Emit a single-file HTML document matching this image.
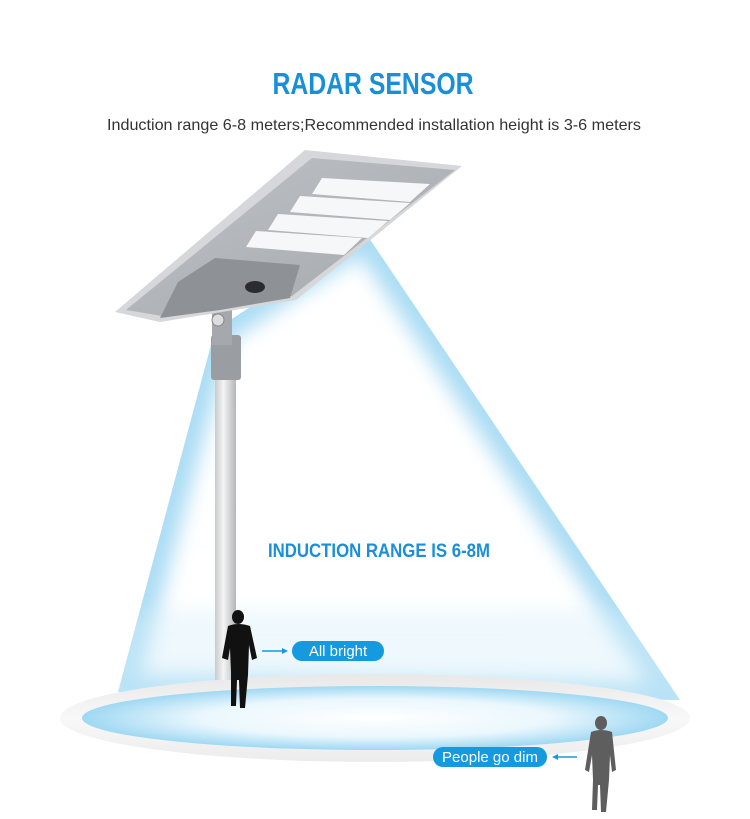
<!DOCTYPE html>
<html><head><meta charset="utf-8"><style>
body{margin:0;background:#fff;}
svg{display:block;}
</style></head><body>
<svg width="750" height="819" viewBox="0 0 750 819" xmlns="http://www.w3.org/2000/svg">
<defs>
<radialGradient id="floor" cx="0.5" cy="0.5" r="0.5">
<stop offset="0" stop-color="#ffffff"/>
<stop offset="0.6" stop-color="#eaf7fd"/>
<stop offset="1" stop-color="#9fd8f3"/>
</radialGradient>
<linearGradient id="ring" x1="0" y1="0" x2="0" y2="1">
<stop offset="0" stop-color="#e8e8e8"/>
<stop offset="0.5" stop-color="#f8f8f8"/>
<stop offset="1" stop-color="#ececec"/>
</linearGradient>
<filter id="blur" x="-20%" y="-20%" width="140%" height="140%"><feGaussianBlur stdDeviation="10"/></filter>
<clipPath id="cone"><polygon points="215,330 365,232 680,700 118,692"/></clipPath>
<linearGradient id="pole" x1="0" x2="1">
<stop offset="0" stop-color="#c9cacc"/><stop offset="0.4" stop-color="#f4f4f4"/><stop offset="1" stop-color="#b5b6b8"/>
</linearGradient>
<linearGradient id="head" x1="0" y1="0" x2="1" y2="1">
<stop offset="0" stop-color="#bfc2c6"/><stop offset="1" stop-color="#a4a7ab"/>
</linearGradient>
</defs>
<rect width="750" height="819" fill="#fff"/>
<!-- cone -->
<g clip-path="url(#cone)">
<rect x="0" y="200" width="750" height="520" fill="#fff"/>
<polygon points="215,330 365,232 680,700 118,692" fill="none" stroke="#9ad5f2" stroke-width="34" filter="url(#blur)" opacity="0.85"/>
<rect x="100" y="610" width="600" height="100" fill="#d4eefa" opacity="0.4" filter="url(#blur)"/>
</g>
<!-- floor -->
<ellipse cx="375" cy="718" rx="315" ry="44" fill="url(#ring)"/>
<ellipse cx="375" cy="718" rx="293" ry="32" fill="url(#floor)"/>
<!-- pole -->
<rect x="215" y="370" width="21" height="310" fill="url(#pole)"/>
<rect x="211" y="335" width="30" height="45" rx="3" fill="#9a9da1"/>
<rect x="212" y="310" width="20" height="35" fill="#a5a8ac"/>
<circle cx="218" cy="320" r="6" fill="#ddd" stroke="#888"/>
<!-- lamp head -->
<polygon points="305,150 462,166 296,300 160,322 115,312" fill="#d5d7da"/>
<polygon points="312,158 455,170 292,296 162,316 126,310" fill="url(#head)"/>
<polygon points="322,178 430,184 410,202 312,194" fill="#f6f7f8"/>
<polygon points="300,196 410,203 390,220 290,212" fill="#f6f7f8"/>
<polygon points="278,214 388,221 368,238 268,230" fill="#f6f7f8"/>
<polygon points="256,231 362,238 344,255 246,247" fill="#f6f7f8"/>
<polygon points="215,258 300,265 290,298 220,310 160,318 178,282" fill="#8e9196"/>
<ellipse cx="255" cy="287" rx="10" ry="6" fill="#2a2c30"/>
<!-- text -->
<text x="373" y="94" text-anchor="middle" font-family="Liberation Sans, sans-serif" font-weight="bold" font-size="31" fill="#1a8fd8" transform="translate(373 0) scale(0.8 1) translate(-373 0)">RADAR SENSOR</text>
<text x="374" y="130" text-anchor="middle" font-family="Liberation Sans, sans-serif" font-size="16" fill="#333" textLength="534" lengthAdjust="spacingAndGlyphs">Induction range 6-8 meters;Recommended installation height is 3-6 meters</text>
<text x="379" y="557" text-anchor="middle" font-family="Liberation Sans, sans-serif" font-weight="bold" font-size="19" fill="#1a8fd8" textLength="222" lengthAdjust="spacingAndGlyphs">INDUCTION RANGE IS 6-8M</text>
<!-- labels -->
<rect x="292" y="641" width="92" height="20" rx="10" fill="#159ae0"/>
<text x="338" y="656" text-anchor="middle" font-family="Liberation Sans, sans-serif" font-size="15" fill="#fff">All bright</text>
<line x1="262" y1="651" x2="285" y2="651" stroke="#159ae0" stroke-width="1.5"/>
<polygon points="288,651 282,648 282,654" fill="#159ae0"/>
<rect x="433" y="747" width="114" height="20" rx="10" fill="#159ae0"/>
<text x="490" y="762" text-anchor="middle" font-family="Liberation Sans, sans-serif" font-size="15" fill="#fff">People go dim</text>
<line x1="555" y1="757" x2="577" y2="757" stroke="#159ae0" stroke-width="1.5"/>
<polygon points="552,757 558,754 558,760" fill="#159ae0"/>
<!-- person 1 -->
<g fill="#111">
<ellipse cx="238" cy="617" rx="6" ry="7"/>
<path d="M228,626 Q238,622 250,626 L257,658 L252,660 L249,645 L248,675 L245,708 L240,708 L239,680 L237,680 L236,706 L231,706 L231,672 L230,648 L228,660 L222,658 Z"/>
</g>
<!-- person 2 -->
<g fill="#5e5e5e">
<ellipse cx="601" cy="723" rx="6" ry="7"/>
<path d="M591,732 Q601,728 612,732 L616,770 L612,772 L610,755 L609,780 L606,812 L601,812 L600,785 L598,785 L597,810 L592,810 L593,780 L592,755 L589,772 L585,770 Z"/>
</g>
</svg>
</body></html>
